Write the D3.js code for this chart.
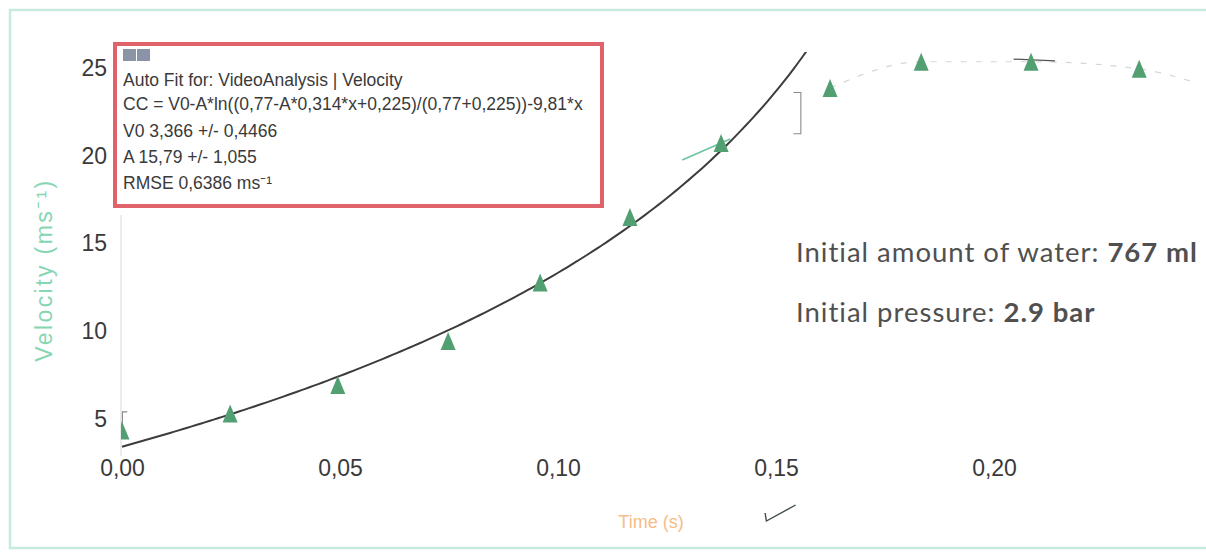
<!DOCTYPE html>
<html>
<head>
<meta charset="utf-8">
<script src="https://cdn.jsdelivr.net/npm/d3@7"></script>
<style>
  html, body { margin: 0; padding: 0; background: #ffffff; }
  svg { display: block; }
</style>
</head>
<body>
<svg id="chart" width="1206" height="554"></svg>
<script>
// Measured rocket velocity from video analysis
const times = [0, 0.0248, 0.0495, 0.0748, 0.0959, 0.1165, 0.1374, 0.1624, 0.1833, 0.2085, 0.2333];
const velocities = [4.29, 5.26, 6.88, 9.39, 12.72, 16.45, 20.67, 23.8, 25.3, 25.3, 24.9];

// Axis ticks
const xTicks = [0, 0.05, 0.10, 0.15, 0.20];
const yTicks = [5, 10, 15, 20, 25];

// Auto-fit parameters
const fitV0 = 3.366;
const fitA = 15.79;
const fitEnd = 0.16;

// Fit box text lines
const fitLines = [
  "Auto Fit for: VideoAnalysis | Velocity",
  "CC = V0-A*ln((0,77-A*0,314*x+0,225)/(0,77+0,225))-9,81*x",
  "V0  3,366 +/- 0,4466",
  "A  15,79 +/- 1,055",
  "RMSE  0,6386 ms\u207B\u00B9"
];

// Annotation lines (label, bold value)
const notes = [
  ["Initial amount of water: ", "767 ml"],
  ["Initial pressure: ", "2.9 bar"]
];

const svg = d3.select("#chart");
const W = 1206, H = 554;

const x = d3.scaleLinear().domain([0, 0.2]).range([122, 994]);
const y = d3.scaleLinear().domain([5, 25]).range([418, 67]);

const plotLeft = 121, plotTop = 52, plotBottom = 456;

const comma = d3.formatLocale({decimal: ",", thousands: ".", grouping: [3], currency: ["", ""]});

// outer frame
svg.append("rect")
  .attr("x", 10).attr("y", 10)
  .attr("width", W + 10).attr("height", 538)
  .attr("fill", "#ffffff")
  .attr("stroke", "#c6eadb").attr("stroke-width", 2.5);

svg.append("defs").append("clipPath").attr("id", "plot-clip")
  .append("rect")
  .attr("x", plotLeft).attr("y", plotTop)
  .attr("width", W - plotLeft).attr("height", plotBottom - plotTop);

// faint vertical axis line
svg.append("line")
  .attr("x1", plotLeft).attr("x2", plotLeft)
  .attr("y1", 215).attr("y2", plotBottom)
  .attr("stroke", "#e6e6e6").attr("stroke-width", 1.5);

// x axis labels
const xAxis = d3.axisBottom(x).tickValues(xTicks).tickSize(0).tickPadding(0)
  .tickFormat(comma.format(".2f"));
const gx = svg.append("g").attr("transform", "translate(0,460)").call(xAxis);
gx.select(".domain").remove();
gx.selectAll("text")
  .attr("font-family", "Liberation Sans, Arial, sans-serif")
  .attr("font-size", 23).attr("fill", "#3a3a3a").attr("dy", "0.71em");

// y axis labels
const yAxis = d3.axisLeft(y).tickValues(yTicks).tickSize(0).tickPadding(0)
  .tickFormat(d3.format("d"));
const gy = svg.append("g").attr("transform", "translate(107,0)").call(yAxis);
gy.select(".domain").remove();
gy.selectAll("text")
  .attr("font-family", "Liberation Sans, Arial, sans-serif")
  .attr("font-size", 23).attr("fill", "#3a3a3a").attr("dy", "0.36em");

// axis titles
svg.append("text")
  .attr("transform", "translate(52,270) rotate(-90)")
  .attr("text-anchor", "middle")
  .attr("font-family", "Liberation Sans, Arial, sans-serif")
  .attr("font-size", 23).attr("letter-spacing", 2.4).attr("fill", "#86d6b3")
  .text("Velocity (ms\u207B\u00B9)");

svg.append("text")
  .attr("x", 651).attr("y", 528)
  .attr("text-anchor", "middle")
  .attr("font-family", "Liberation Sans, Arial, sans-serif")
  .attr("font-size", 18).attr("fill", "#f6bd86")
  .text("Time (s)");

// small stroke below the axis
svg.append("path")
  .attr("d", d3.line()([[x(0.1475), 513], [x(0.1478), 521], [x(0.1545), 505]]))
  .attr("fill", "none").attr("stroke", "#3c4a48").attr("stroke-width", 1.4);

const plot = svg.append("g").attr("clip-path", "url(#plot-clip)");

// faint smoothing line through the later points
const pts = times.map((t, i) => [t, velocities[i]]);
const lateLine = d3.line().x(d => x(d[0])).y(d => y(d[1])).curve(d3.curveMonotoneX);
plot.append("path")
  .datum(pts.slice(7).concat([[0.245, 24.2]]))
  .attr("d", lateLine)
  .attr("fill", "none").attr("stroke", "#d6d6d6")
  .attr("stroke-width", 1.2).attr("stroke-dasharray", "6,9");

// short dark dash across the tenth point
plot.append("line")
  .attr("x1", x(0.2045)).attr("y1", y(25.45))
  .attr("x2", x(0.2140)).attr("y2", y(25.35))
  .attr("stroke", "#555").attr("stroke-width", 1.2);

// error bracket near the end of the fit
plot.append("path")
  .attr("d", d3.line()([[x(0.1540), y(23.55)], [x(0.1557), y(23.55)], [x(0.1557), y(21.2)], [x(0.1540), y(21.2)]]))
  .attr("fill", "none").attr("stroke", "#8a8a8a").attr("stroke-width", 1.1);

// bracket at the first point
plot.append("path")
  .attr("d", d3.line()([[x(0.0012), y(5.35)], [x(0.0001), y(5.35)], [x(0.0001), y(4.6)]]))
  .attr("fill", "none").attr("stroke", "#8a8a8a").attr("stroke-width", 1.1);

// fitted curve
const fit = t => fitV0 - fitA * Math.log((0.77 - fitA * 0.314 * t + 0.225) / (0.77 + 0.225)) - 9.81 * t;
const fitPts = d3.range(0, fitEnd + 1e-9, 0.001).map(t => [t, fit(t)]);
plot.append("path")
  .datum(fitPts)
  .attr("d", d3.line().x(d => x(d[0])).y(d => y(d[1])))
  .attr("fill", "none").attr("stroke", "#3c3c3c").attr("stroke-width", 2);

// tangent stroke at the seventh point
plot.append("line")
  .attr("x1", x(0.1285)).attr("y1", y(19.7))
  .attr("x2", x(0.1395)).attr("y2", y(20.9))
  .attr("stroke", "#6cc3a0").attr("stroke-width", 1.6);

// data markers (triangles)
const tri = "M0,-9L7.5,9L-7.5,9Z";
plot.selectAll("path.pt")
  .data(pts)
  .join("path")
  .attr("class", "pt")
  .attr("transform", d => `translate(${x(d[0])},${y(d[1])})`)
  .attr("d", tri)
  .attr("fill", "#52a072");

// fit result box
const box = svg.append("g");
box.append("rect")
  .attr("x", 115).attr("y", 44)
  .attr("width", 487).attr("height", 162)
  .attr("fill", "#ffffff")
  .attr("stroke", "#e0636b").attr("stroke-width", 4);
box.append("rect").attr("x", 123).attr("y", 49).attr("width", 13).attr("height", 12).attr("fill", "#8a94a6");
box.append("rect").attr("x", 137).attr("y", 49).attr("width", 13).attr("height", 12).attr("fill", "#8a94a6");
box.selectAll("text.fit")
  .data(fitLines)
  .join("text")
  .attr("class", "fit")
  .attr("x", 123)
  .attr("y", (d, i) => [86, 110, 137, 163, 189][i])
  .attr("font-family", "Liberation Sans, Arial, sans-serif")
  .attr("font-size", 17.5).attr("fill", "#3a3a3a")
  .text(d => d);

// annotation text
const note = svg.selectAll("text.note")
  .data(notes)
  .join("text")
  .attr("class", "note")
  .attr("x", 796)
  .attr("y", (d, i) => [262, 322][i])
  .attr("font-family", "Lato, 'Open Sans', sans-serif")
  .attr("font-size", 27.5).attr("letter-spacing", 1.0).attr("fill", "#505050");
note.append("tspan").text(d => d[0]);
note.append("tspan").attr("font-weight", "bold").text(d => d[1]);
</script>
</body>
</html>
